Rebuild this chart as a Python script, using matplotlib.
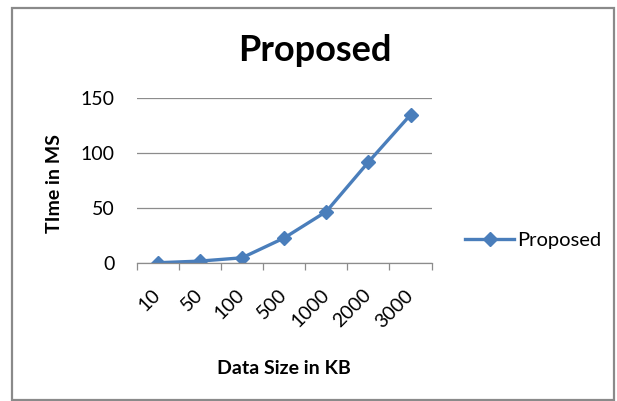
import matplotlib
matplotlib.use("Agg")
import matplotlib.pyplot as plt
from matplotlib.patches import Rectangle

sizes = ["10", "50", "100", "500", "1000", "2000", "3000"]
proposed = [0.5, 2, 5, 23, 47, 92, 135]

plt.rcParams["font.family"] = ["Lato", "DejaVu Sans"]

fig = plt.figure(figsize=(6.17, 4.01), dpi=100)
ax = fig.add_axes([0.2215, 0.3434, 0.478, 0.4115])

x = list(range(len(sizes)))
ax.plot(x, proposed, color="#4A7EBB", lw=2.4, marker="D", ms=7.5,
        mfc="#4A7EBB", mec="#4A7EBB", label="Proposed")

ax.set_xlim(-0.5, len(sizes) - 0.5)
ax.set_ylim(0, 150)
ax.set_yticks([0, 50, 100, 150])
ax.yaxis.grid(True, color="#8c8c8c", lw=0.9)
ax.set_axisbelow(True)
for s in ("top", "right", "left"):
    ax.spines[s].set_visible(False)
ax.spines["bottom"].set_color("#8c8c8c")
ax.spines["bottom"].set_linewidth(0.9)

ax.set_xticks(x)
ax.set_xticklabels(sizes, rotation=45, ha="right", va="center", rotation_mode="anchor",
                   fontsize=14)
ax.tick_params(axis="x", which="major", length=0, pad=21)
ax.set_xticks([i - 0.5 for i in range(len(sizes) + 1)], minor=True)
ax.tick_params(axis="x", which="minor", length=5, color="#8c8c8c", width=0.9)
ax.tick_params(axis="y", length=0, labelsize=14, pad=16)

ax.set_xlabel("Data Size in KB", fontsize=14, fontweight="bold")
ax.xaxis.set_label_coords(0.499, -0.586)
ax.set_ylabel("TIme in MS", fontsize=14, fontweight="bold")
ax.yaxis.set_label_coords(-0.25, 0.484)

fig.text(0.51, 0.873, "Proposed", fontsize=26, fontweight="bold", ha="center", va="center")

fig.legend(loc="center left", bbox_to_anchor=(0.725, 0.40), frameon=False,
           fontsize=14.5, handlelength=2.4, handletextpad=0.15)

fig.patches.append(Rectangle((0.02, 0.003), 0.975, 0.977, transform=fig.transFigure,
                             fill=False, edgecolor="#8a8a8a", lw=1.6))

fig.savefig("out.png", dpi=100)
